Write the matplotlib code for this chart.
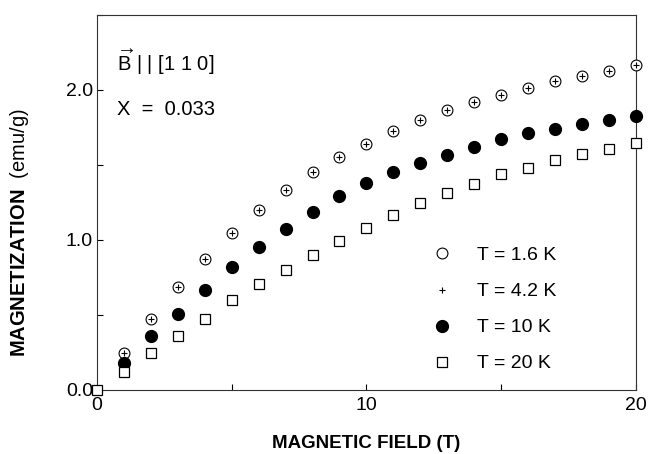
import matplotlib
matplotlib.use('Agg')
import matplotlib.pyplot as plt
from matplotlib.ticker import MultipleLocator

plt.rcParams['font.family'] = ['Liberation Sans', 'DejaVu Sans']
plt.rcParams['mathtext.fontset'] = 'custom'
plt.rcParams['mathtext.rm'] = 'Liberation Sans'
plt.rcParams['mathtext.bf'] = 'Liberation Sans:bold'

# Datos
campo = [1, 2, 3, 4, 5, 6, 7, 8, 9, 10, 11, 12, 13, 14, 15, 16, 17, 18, 19, 20]
campo_20k = [0, 1, 2, 3, 4, 5, 6, 7, 8, 9, 10, 11, 12, 13, 14, 15, 16, 17, 18, 19, 20]

m_1_6k = [0.247, 0.473, 0.687, 0.873, 1.047, 1.20, 1.333, 1.453, 1.553, 1.64,
          1.727, 1.80, 1.867, 1.92, 1.967, 2.013, 2.06, 2.093, 2.127, 2.167]
m_4_2k = [0.247, 0.473, 0.687, 0.873, 1.047, 1.20, 1.333, 1.453, 1.553, 1.64,
          1.727, 1.80, 1.867, 1.92, 1.967, 2.013, 2.06, 2.093, 2.127, 2.167]
m_10k = [0.18, 0.36, 0.507, 0.667, 0.82, 0.953, 1.073, 1.187, 1.293, 1.38,
         1.453, 1.513, 1.567, 1.62, 1.673, 1.713, 1.74, 1.773, 1.80, 1.827]
m_20k = [0.0, 0.12, 0.247, 0.36, 0.473, 0.60, 0.707, 0.80, 0.90, 0.993, 1.08,
         1.167, 1.247, 1.313, 1.373, 1.44, 1.48, 1.533, 1.573, 1.607, 1.647]

fig = plt.figure(figsize=(6.52, 4.54), dpi=100)
ax = fig.add_axes([0.149, 0.141, 0.826, 0.826])

ax.plot(campo, m_1_6k, 'o', mfc='white', mec='black', ms=7.8, mew=0.8,
        label='T = 1.6 K', clip_on=False, zorder=3)
ax.plot(campo, m_4_2k, '+', color='black', ms=5, mew=0.8,
        label='T = 4.2 K', clip_on=False, zorder=4)
ax.plot(campo, m_10k, 'o', color='black', ms=8.5,
        label='T = 10 K', clip_on=False, zorder=3)
ax.plot(campo_20k, m_20k, 's', mfc='white', mec='black', ms=7.8, mew=0.9,
        label='T = 20 K', clip_on=False, zorder=3)

ax.set_xlim(0, 20)
ax.set_ylim(0, 2.5)
ax.xaxis.set_major_locator(MultipleLocator(10))
ax.xaxis.set_minor_locator(MultipleLocator(5))
ax.yaxis.set_minor_locator(MultipleLocator(0.5))
ax.set_yticks([0, 1, 2])
ax.set_yticklabels(['0.0', '1.0', '2.0'])
ax.tick_params(which='both', direction='in', length=4, width=0.8, labelsize=14)
ax.tick_params(axis='x', pad=5)
ax.tick_params(axis='y', pad=3)

for s in ax.spines.values():
    s.set_linewidth(0.8)
    s.set_color('#333333')

ax.set_xlabel('MAGNETIC FIELD (T)', fontsize=13.5, fontweight='bold', labelpad=15)
ax.set_ylabel(r'$\mathbf{MAGNETIZATION}$  (emu/g)', fontsize=14.5)
ax.yaxis.set_label_coords(-0.122, 0.42)

ax.text(0.037, 0.873, r'$\overrightarrow{\mathrm{B}}$ | | [1 1 0]', transform=ax.transAxes,
        fontsize=14.5, va='center')
ax.text(0.037, 0.747, 'X  =  0.033', transform=ax.transAxes, fontsize=14.5, va='center')

ax.legend(loc='lower left', bbox_to_anchor=(0.59, 0.0), frameon=False,
          fontsize=14, labelspacing=0.95, handletextpad=1.3, handlelength=1.0)

fig.savefig('out.png', dpi=100)
